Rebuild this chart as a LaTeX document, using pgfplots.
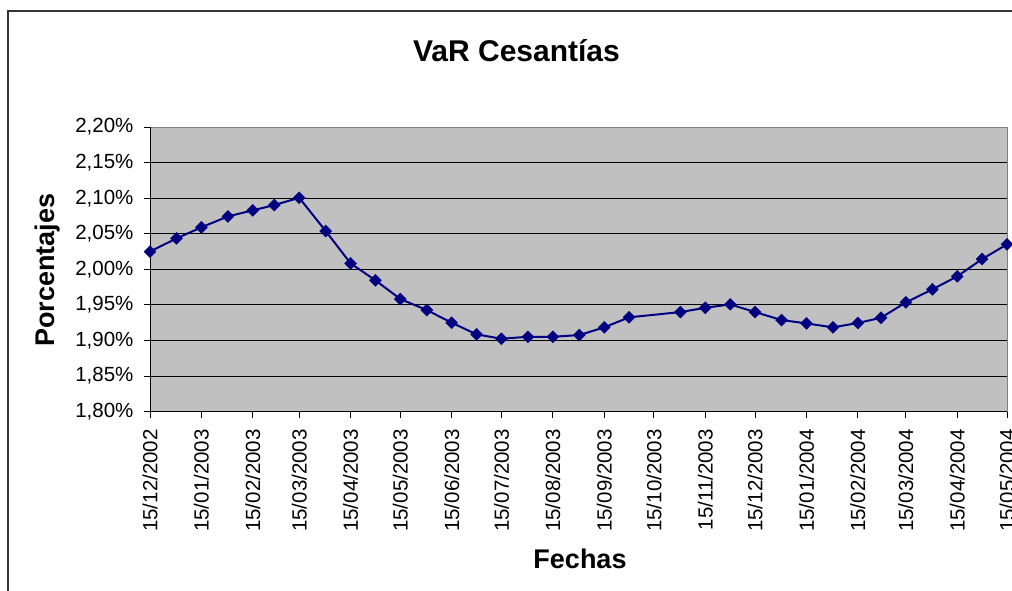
\documentclass[border=0pt]{standalone}
\usepackage{pgfplots}
\pgfplotsset{compat=1.18}
\usepackage{fontspec}
\setmainfont{Liberation Sans}
\definecolor{navyline}{RGB}{0,0,128}
\definecolor{plotbg}{RGB}{192,192,192}
\definecolor{frame}{RGB}{50,50,50}
\begin{document}
\begin{tikzpicture}
\path[use as bounding box] (0pt,0pt) rectangle (1012pt,-590pt);
\draw[line width=1.6pt, frame] (8pt,-600pt) -- (8pt,-11pt) -- (1020pt,-11pt);
\node[anchor=base, font=\fontsize{30}{34}\selectfont\bfseries] at (516.5pt,-61pt) {VaR Cesantías};
\node[anchor=base, font=\fontsize{27}{31}\selectfont\bfseries] at (580pt,-568pt) {Fechas};
\node[anchor=base, rotate=90, font=\fontsize{27}{31}\selectfont\bfseries] at (54pt,-270pt) {Porcentajes};
\begin{axis}[
  at={(150pt,-411.7pt)}, anchor=south west,
  scale only axis, width=857pt, height=284.7pt,
  xmin=0, xmax=517, ymin=1.80, ymax=2.20,
  axis background/.style={fill=plotbg},
  axis line style={draw=gray!100!black, line width=1pt},
  ymajorgrids, major grid style={black, line width=1pt},
  tick align=outside, tick pos=left, major tick length=6pt,
  tick style={black, line width=1pt},
  ytick={1.80,1.85,1.90,1.95,2.00,2.05,2.10,2.15,2.20},
  yticklabels={{1,80\%},{1,85\%},{1,90\%},{1,95\%},{2,00\%},{2,05\%},{2,10\%},{2,15\%},{2,20\%}},
  xtick={0,31,62,90,121,151,182,212,243,274,304,335,365,396,427,456,487,517},
  xticklabels={15/12/2002,15/01/2003,15/02/2003,15/03/2003,15/04/2003,15/05/2003,15/06/2003,15/07/2003,15/08/2003,15/09/2003,15/10/2003,15/11/2003,15/12/2003,15/01/2004,15/02/2004,15/03/2004,15/04/2004,15/05/2004},
  ticklabel style={font=\fontsize{20.5}{23}\selectfont},
  xticklabel style={rotate=90, anchor=east},
  yticklabel shift=7pt, xticklabel shift=8pt,
  clip=false,
]
\addplot[navyline, line width=2pt, mark=square*, mark size=4.2pt, mark options={rotate=45, fill=navyline, draw=navyline, line width=0.5pt}] coordinates {
(0,2.025) (16,2.0435) (31,2.059) (47,2.0744) (62,2.0829) (75,2.0903) (90,2.1006)
(106,2.0538) (121,2.0084) (136,1.9846) (151,1.9583) (167,1.9428) (182,1.925)
(197,1.9087) (212,1.9025) (228,1.9053) (243,1.9053) (259,1.9077) (274,1.9185)
(289,1.9326) (320,1.940) (335,1.946) (350,1.9508) (365,1.940) (381,1.9288)
(396,1.9241) (412,1.9185) (427,1.9246) (441,1.932) (456,1.9536) (472,1.9719)
(487,1.9902) (502,2.0145) (517,2.0351)
};
\draw[black, line width=1pt] (axis cs:0,2.20) -- (axis cs:0,1.80) -- (axis cs:517,1.80);
\end{axis}
\end{tikzpicture}
\end{document}
